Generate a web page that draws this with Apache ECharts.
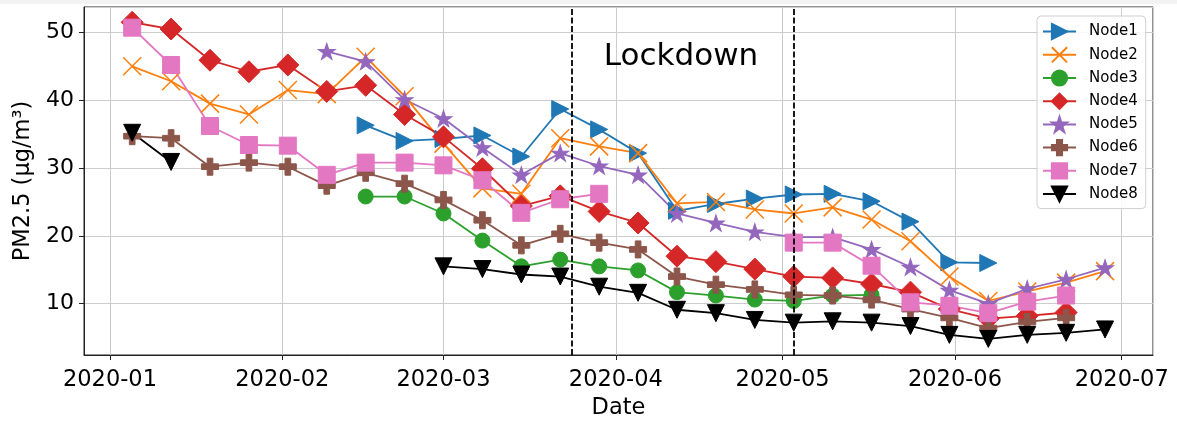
<!DOCTYPE html>
<html><head><meta charset="utf-8">
<script src="https://cdn.jsdelivr.net/npm/echarts@6/dist/echarts.min.js"></script>
<style>html,body{margin:0;padding:0;background:#fff}#c{width:1177px;height:421px}</style>
</head><body><div id="c"></div>
<script>
const dates = ['2020-01-05','2020-01-12','2020-01-19','2020-01-26','2020-02-02','2020-02-09','2020-02-16','2020-02-23',
  '2020-03-01','2020-03-08','2020-03-15','2020-03-22','2020-03-29','2020-04-05','2020-04-12','2020-04-19','2020-04-26',
  '2020-05-03','2020-05-10','2020-05-17','2020-05-24','2020-05-31','2020-06-07','2020-06-14','2020-06-21','2020-06-28'];
const node1 = [null,null,null,null,null,null,36.3,34.0,34.3,34.8,31.7,38.7,35.7,32.2,23.7,24.7,25.5,26.1,26.2,25.1,22.1,16.1,16.0,null,null,null];
const node2 = [45.0,42.8,39.5,37.9,41.5,40.9,46.4,40.6,33.6,27.0,26.2,34.4,33.2,32.2,24.8,25.0,23.9,23.3,24.2,22.4,19.2,14.0,10.4,11.8,13.1,14.8];
const node3 = [null,null,null,null,null,null,25.8,25.8,23.3,19.3,15.5,16.5,15.5,14.9,11.7,11.2,10.6,10.4,11.2,11.3,null,null,null,null,null,null];
const node4 = [51.5,50.5,45.9,44.2,45.2,41.3,42.2,37.9,34.6,29.9,24.4,25.9,23.6,21.9,17.0,16.2,15.1,14.0,13.8,12.9,11.7,9.2,7.8,8.2,8.7,null];
const node5 = [null,null,null,null,null,47.2,45.7,40.1,37.3,33.0,29.0,32.2,30.3,29.0,23.3,21.9,20.6,19.8,19.8,18.0,15.4,12.0,10.0,12.2,13.6,15.3];
const node6 = [34.7,34.4,30.2,30.8,30.2,27.4,29.3,27.7,25.3,22.3,18.6,20.3,19.0,18.0,14.0,12.8,12.1,11.3,11.2,10.6,9.2,7.9,6.4,7.3,7.9,null];
const node7 = [50.7,45.2,36.2,33.4,33.3,29.0,30.8,30.8,30.4,28.2,23.4,25.4,26.2,null,null,null,null,19.0,19.0,15.6,10.2,9.7,8.6,10.3,11.2,null];
const node8 = [35.2,30.9,null,null,null,null,null,null,15.5,15.1,14.3,14.0,12.5,11.6,9.1,8.6,7.6,7.2,7.4,7.2,6.7,5.4,4.8,5.4,5.7,6.2];
const seriesNames = ['Node1','Node2','Node3','Node4','Node5','Node6','Node7','Node8'];
const lockdownDates = ['2020-03-24','2020-05-03'];
const annotationText = 'Lockdown';
const xAxisTitle = 'Date';
const yAxisTitle = 'PM2.5 (μg/m³)';

const values = [node1,node2,node3,node4,node5,node6,node7,node8];
const colors = ['#1f77b4','#ff7f0e','#2ca02c','#d62728','#9467bd','#8c564b','#e377c2','#000000'];
const FONT = '"DejaVu Sans", sans-serif';

// marker shapes (styles)
const triRight = 'path://M0,0L17,8.5L0,17Z';
const xMark = 'path://M0,0L18,18M18,0L0,18';
const plusMark = 'path://M6,0L12,0L12,6L18,6L18,12L12,12L12,18L6,18L6,12L0,12L0,6L6,6Z';
const starMark = 'path://M50,0L61.23,34.55L97.55,34.55L68.17,55.9L79.39,90.45L50,69.1L20.61,90.45L31.83,55.9L2.45,34.55L38.77,34.55Z';
const triDown = 'path://M0,0L17,0L8.5,17Z';
const symbols = [triRight, xMark, 'circle', 'diamond', starMark, plusMark, 'rect', triDown];
const sizes = [[17,17],[18,18],15,22,[17,16.2],[17,17],17,[17,17]];

const series = seriesNames.map((name, i) => {
  const isX = i === 1;
  return {
    name: name,
    type: 'line',
    data: dates.map((d, j) => [d, values[i][j] === null ? '-' : values[i][j]]),
    connectNulls: false,
    symbol: symbols[i],
    symbolSize: sizes[i],
    showSymbol: true,
    lineStyle: { color: colors[i], width: 1.8 },
    itemStyle: isX ? { color: 'rgba(0,0,0,0)', borderColor: colors[i], borderWidth: 1.5 }
                   : { color: colors[i], borderColor: colors[i], borderWidth: 1 },
    emphasis: { disabled: true },
    z: 2
  };
});
series.push({
  name: '_lockdown', type: 'line', data: [], z: 5,
  markLine: {
    silent: true, symbol: ['none','none'], label: { show: false },
    lineStyle: { color: '#000', type: [6, 2.5], width: 1.8 },
    data: lockdownDates.map(d => ({ xAxis: d })),
    animation: false
  }
});

const chart = echarts.init(document.getElementById('c'), null, { renderer: 'canvas' });
chart.setOption({
  animation: false,
  backgroundColor: '#fff',
  textStyle: { fontFamily: FONT },
  grid: { left: 84, right: 24, top: 7, bottom: 66, show: true, borderColor: '#222', borderWidth: 1, containLabel: false, outerBoundsMode: 'none' },
  xAxis: {
    type: 'time',
    min: new Date(2019, 11, 27, 8).getTime(),
    max: new Date(2020, 6, 6, 15).getTime(),
    name: xAxisTitle, nameLocation: 'middle', nameGap: 41,
    nameTextStyle: { fontSize: 22.5, color: '#000', fontFamily: FONT },
    axisLine: { show: true, lineStyle: { color: '#222', width: 1 } },
    axisTick: { show: true, length: 5, lineStyle: { color: '#222' } },
    axisLabel: { fontSize: 22.5, color: '#000', margin: 14, fontFamily: FONT, hideOverlap: false,
      formatter: function (v) { const d = new Date(v); return d.getFullYear() + '-' + String(d.getMonth() + 1).padStart(2, '0'); } },
    splitLine: { show: true, lineStyle: { color: '#cccccc', width: 1 } }
  },
  yAxis: {
    type: 'value', min: 2.43, max: 53.75,
    name: yAxisTitle, nameLocation: 'middle', nameGap: 47, nameRotate: 90,
    nameTextStyle: { fontSize: 22.5, color: '#000', fontFamily: FONT },
    axisLine: { show: true, lineStyle: { color: '#222', width: 1 } },
    axisTick: { show: true, length: 5, lineStyle: { color: '#222' } },
    axisLabel: { fontSize: 22, color: '#000', margin: 10, showMinLabel: false, showMaxLabel: false, fontFamily: FONT },
    splitLine: { show: true, lineStyle: { color: '#cccccc', width: 1 } }
  },
  legend: {
    data: seriesNames, orient: 'vertical', left: 1037, top: 16,
    itemWidth: 33, itemHeight: 19, itemGap: 6,
    padding: [7, 8, 6, 5],
    backgroundColor: 'rgba(255,255,255,0.85)', borderColor: '#d0d0d0', borderWidth: 1, borderRadius: 4,
    textStyle: { fontSize: 15, color: '#000', fontFamily: FONT, padding: [0, 0, 0, 8] },
    selectedMode: false
  },
  graphic: [
    { type: 'rect', shape: { x: 0, y: 0, width: 1177, height: 4 }, style: { fill: '#f3f3f3' }, silent: true, z: -10 },
    { type: 'text', x: 681, y: 57, style: { text: annotationText, font: '31px ' + FONT, fill: '#000', align: 'center', verticalAlign: 'middle' }, silent: true, z: 10 }
  ],
  series: series
});
</script>
</body></html>
